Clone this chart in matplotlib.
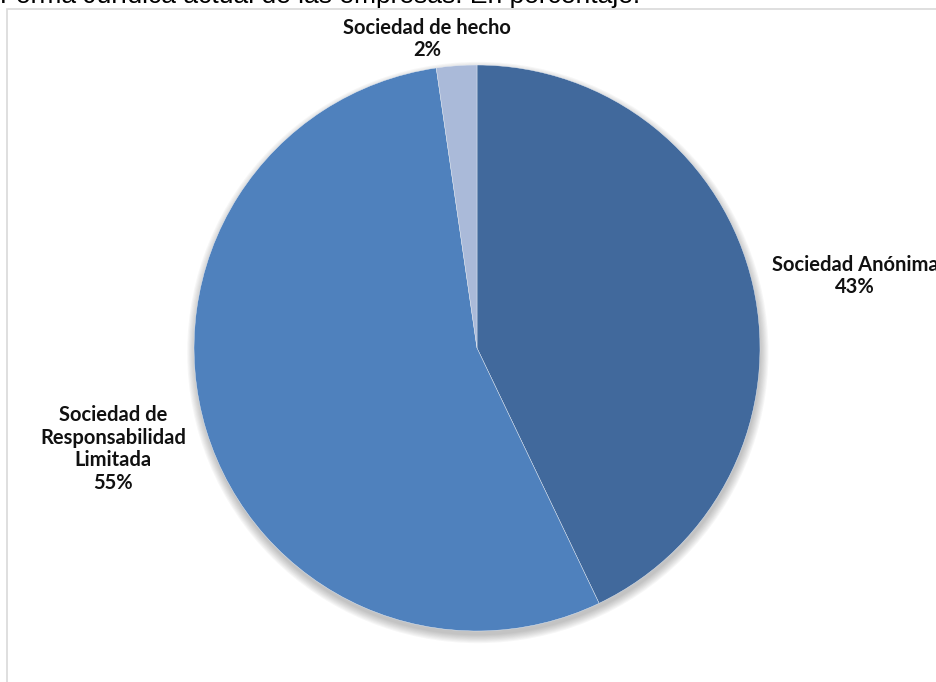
import matplotlib.pyplot as plt
from matplotlib.patches import Circle, Rectangle

# datos del gráfico
categorias = ['Sociedad Anónima', 'Sociedad de\nResponsabilidad\nLimitada', 'Sociedad de hecho']
valores = [42.9, 54.8, 2.3]
etiquetas_pct = ['43%', '55%', '2%']
colores = ['#41699c', '#4f81bd', '#aabad9']
titulo = 'Forma Jurídica actual de las empresas. En porcentaje.'

W, H = 936, 682
fig = plt.figure(figsize=(W / 100, H / 100), dpi=100)

# marco del área del gráfico (gris claro)
fig.patches.append(Rectangle((7.5 / W, -0.1), 1.2, (H - 8.5) / H + 0.1, transform=fig.transFigure,
                             fill=False, edgecolor='#d9d9d9', linewidth=1.2))

# título (cortado arriba, como en la imagen original)
fig.text(0, (H - 3.5) / H, titulo, fontsize=19, family='Liberation Sans', va='baseline', ha='left')

# ejes del pastel: centro (477, 348), radio 283 px
cx, cy, R = 477, 348, 283
ax = fig.add_axes([(cx - R) / W, (H - cy - R) / H, 2 * R / W, 2 * R / H])
ax.axis('off')

# sombra difusa bajo el pastel
for k in range(8):
    ax.add_patch(Circle((0.003, -0.016), 0.995 + 0.004 * (8 - k), facecolor='#404040',
                        edgecolor='none', alpha=0.045, zorder=0, clip_on=False))

ax.pie(valores, colors=colores, startangle=90, counterclock=False, radius=1.0,
       wedgeprops=dict(edgecolor='#e8eef6', linewidth=0.3, zorder=2))
ax.set_xlim(-1, 1)
ax.set_ylim(-1, 1)
ax.set_aspect('equal')

# etiquetas
pos = [(855, 276), (113, 449), (427, 39)]
for cat, pct, (px, py) in zip(categorias, etiquetas_pct, pos):
    fig.text(px / W, (H - py) / H, cat + '\n' + pct, ha='center', va='center',
             fontsize=14.5, fontweight='bold', family='Lato', linespacing=1.17, color='#111111')

fig.savefig('out.png', dpi=100)
